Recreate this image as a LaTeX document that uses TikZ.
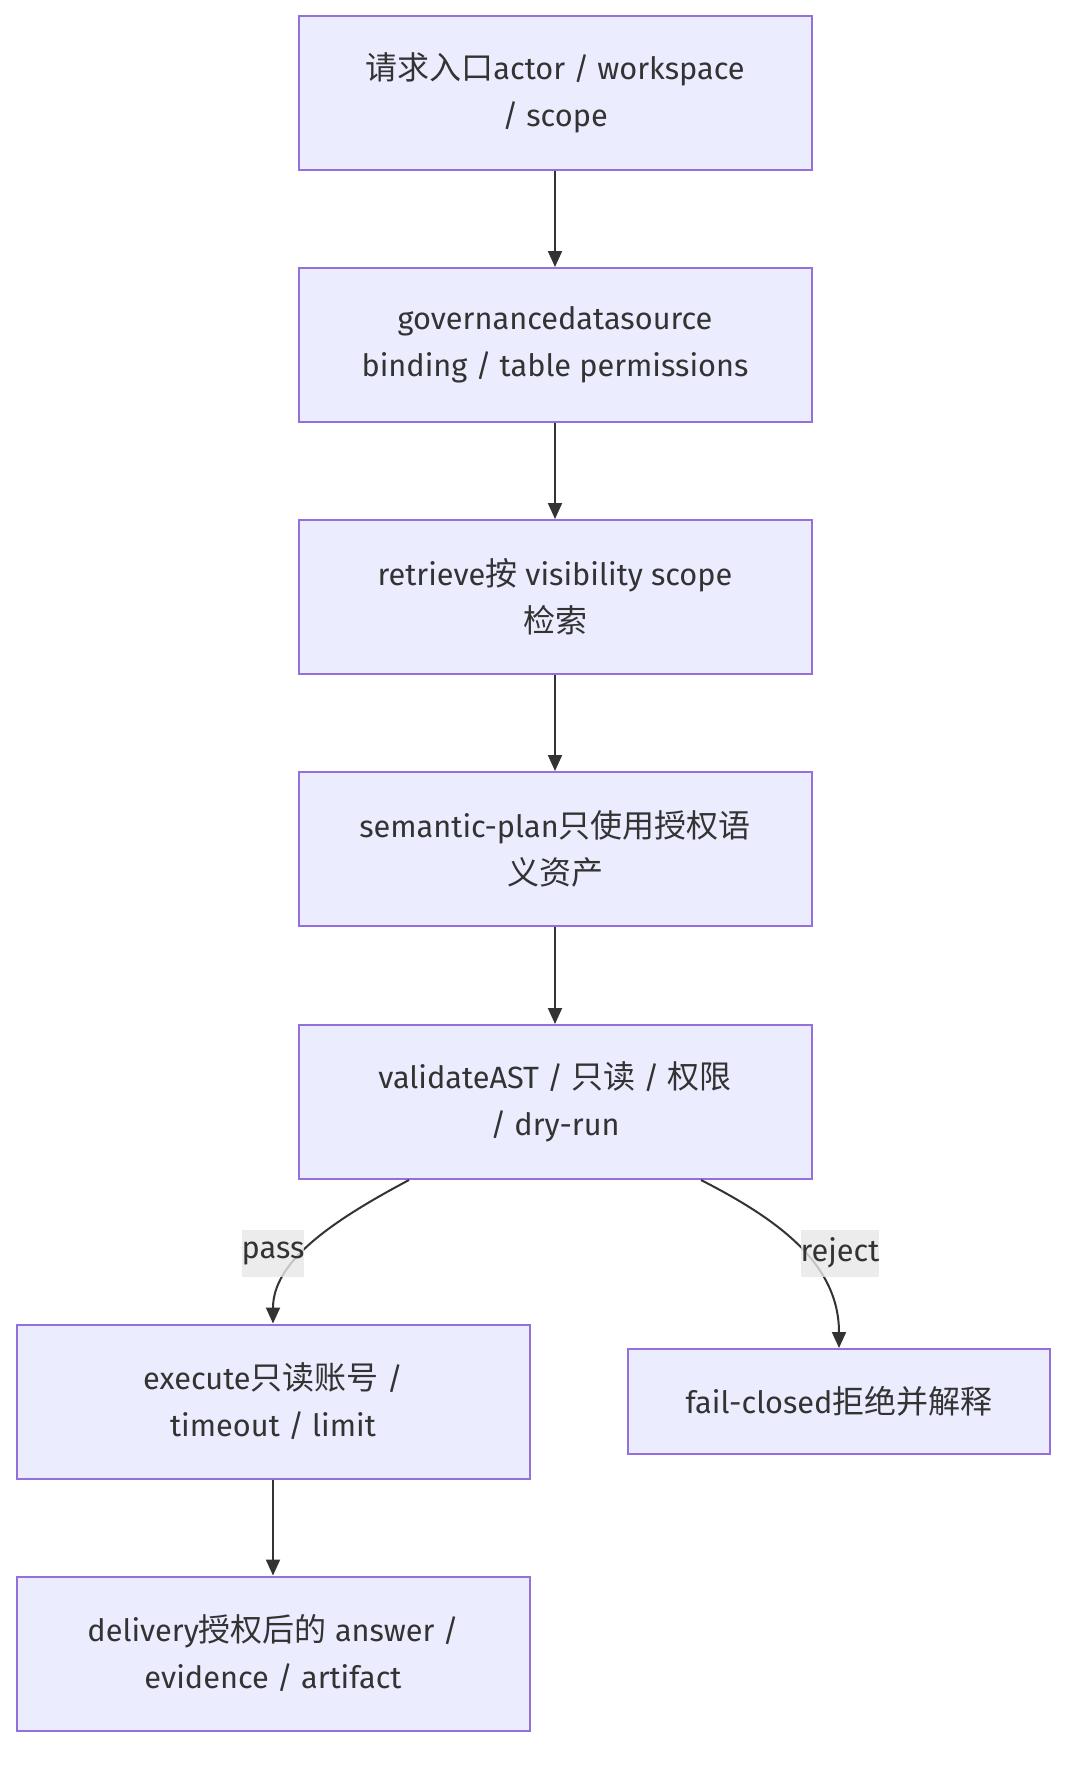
\documentclass[tikz,border=0pt]{standalone}
\usepackage{fontspec}
\setmainfont{Fira Sans}[Scale=0.96]
\newfontfamily\cjk{Noto Sans CJK SC}
\usetikzlibrary{arrows.meta}
\definecolor{boxfill}{HTML}{ECECFF}
\definecolor{boxline}{HTML}{9370DB}
\definecolor{ink}{HTML}{333333}
\definecolor{lblbg}{HTML}{E8E8E8}
\newcommand{\zh}[1]{{\cjk #1}}
\tikzset{
  flowbox/.style={draw=boxline, fill=boxfill, line width=1pt, inner sep=0pt,
    minimum width=256.5pt, minimum height=77pt, align=center, text=ink,
    font=\fontsize{16pt}{23.5pt}\selectfont},
  smallbox/.style={flowbox, minimum width=211pt, minimum height=52.5pt},
  arr/.style={draw=ink, line width=1pt, -{Triangle[length=8pt,width=7pt]}},
  lbl/.style={fill=lblbg, fill opacity=0.8, text opacity=1, text=ink, inner xsep=0pt,
    inner ysep=0pt, minimum height=23.5pt, font=\fontsize{16pt}{19pt}\selectfont}
}
\begin{document}
\begin{tikzpicture}[x=0.5pt,y=-0.5pt]
\useasboundingbox (0,0) rectangle (1082,1772);
\fill[white] (0,0) rectangle (1082,1772);
\node[flowbox] (b1) at (555,92.7) {\zh{请求入口}actor / workspace\\/ scope};
\node[flowbox] (b2) at (555,345) {governancedatasource\\binding / table permissions};
\node[flowbox] (b3) at (555,597) {retrieve\zh{按} visibility scope\\\zh{检索}};
\node[flowbox] (b4) at (555,849) {semantic-plan\zh{只使用授权语}\\\zh{义资产}};
\node[flowbox] (b5) at (555,1102) {validateAST / \zh{只读} / \zh{权限}\\/ dry-run};
\node[flowbox] (b6) at (273,1401.5) {execute\zh{只读账号} /\\timeout / limit};
\node[flowbox] (b7) at (273,1653.5) {delivery\zh{授权后的} answer /\\evidence / artifact};
\node[smallbox] (b8) at (839,1401.5) {fail-closed\zh{拒绝并解释}};
\draw[arr] (b1) -- (b2);
\draw[arr] (b2) -- (b3);
\draw[arr] (b3) -- (b4);
\draw[arr] (b4) -- (b5);
\draw[arr] (b6) -- (b7);
\draw[arr] ([xshift=-73pt]b5.south) .. controls (330,1222) and (273,1262) .. (b6.north);
\draw[arr] ([xshift=73pt]b5.south) .. controls (775,1218) and (839,1262) .. (b8.north);
\node[lbl] (lp) at (273,1253) {pass};
\node[lbl] (lr) at (840,1253) {reject};
\end{tikzpicture}
\end{document}
